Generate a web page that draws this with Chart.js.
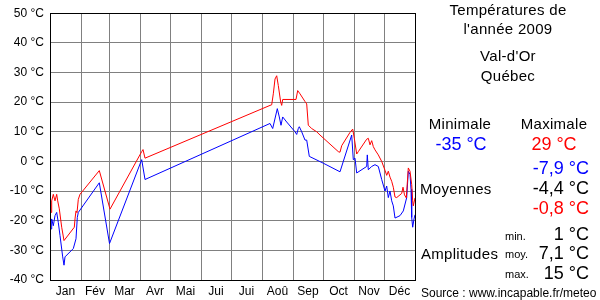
<!DOCTYPE html>
<html>
<head>
<meta charset="utf-8">
<script src="https://cdn.jsdelivr.net/npm/chart.js@4/dist/chart.umd.min.js"></script>
<style>
  body { margin: 0; background: #fff; }
  #wrap { position: relative; width: 600px; height: 300px; font-family: "Liberation Sans", Arial, sans-serif; color: #000; }
  #wrap canvas { position: absolute; left: 0; top: 0; }
  .t { position: absolute; white-space: nowrap; }
  .f15 { font-size: 15px; line-height: 15px; letter-spacing: 0.3px; }
  .f18 { font-size: 18px; line-height: 18px; }
  .f11 { font-size: 11px; line-height: 11px; }
  .f12 { font-size: 12px; line-height: 12px; }
  .c { width: 200px; text-align: center; }
  .r { right: 11px; text-align: right; }
  .bleu { color: #0000ff; }
  .rouge { color: #ff0000; }
</style>
</head>
<body>
<div id="wrap">
  <canvas id="graphique" width="600" height="300"></canvas>

  <div class="t f15 c" style="left:408px;top:2px">Températures de</div>
  <div class="t f15 c" style="left:408px;top:21px">l'année 2009</div>
  <div class="t f15 c" style="left:408px;top:48px">Val-d'Or</div>
  <div class="t f15 c" style="left:408px;top:68px">Québec</div>

  <div class="t f15 c" style="left:360px;top:116px">Minimale</div>
  <div class="t f15 c" style="left:454px;top:116px">Maximale</div>
  <div class="t f18 c bleu" style="left:361px;top:135px">-35 °C</div>
  <div class="t f18 c rouge" style="left:454px;top:135px">29 °C</div>

  <div class="t f18 r bleu" style="top:159px">-7,9 °C</div>
  <div class="t f15" style="left:420px;top:181px">Moyennes</div>
  <div class="t f18 r" style="top:179px">-4,4 °C</div>
  <div class="t f18 r rouge" style="top:199px">-0,8 °C</div>

  <div class="t f11" style="left:505px;top:231px">min.</div>
  <div class="t f18 r" style="top:225px">1 °C</div>
  <div class="t f15" style="left:421px;top:246px">Amplitudes</div>
  <div class="t f11" style="left:505px;top:249px">moy.</div>
  <div class="t f18 r" style="top:244px">7,1 °C</div>
  <div class="t f11" style="left:505px;top:269px">max.</div>
  <div class="t f18 r" style="top:264px">15 °C</div>

  <div class="t f12" style="left:421px;top:287px">Source : www.incapable.fr/meteo</div>
</div>

<script>
const moisNoms = ["Jan", "Fév", "Mar", "Avr", "Mai", "Jui", "Jui", "Aoû", "Sep", "Oct", "Nov", "Déc"];
const moisDebut = [0, 31, 59, 90, 120, 151, 181, 212, 243, 273, 304, 334, 365];
const tempMin = -40;
const tempMax = 50;

// maximales (rouge) : jour de l'année, température
const maxJours = [1, 1.7, 3.3, 5, 6.7, 7.7, 9.3, 11.7, 14, 24.3, 25, 26, 27, 28.3, 30, 49.3, 60,
  91.7, 93, 95, 220, 221.7, 223.3, 225, 226.7, 228.3, 230.7, 231.7, 232.7, 246, 247.7, 250, 255,
  256.7, 258.3, 261.7, 266.7, 270, 288.3, 290, 291.7, 300, 302.7, 304.3, 306.7, 308.3, 316.7,
  318.3, 320, 321.7, 323.3, 325, 328.3, 331.7, 335, 336.7, 338.3, 340, 341.7, 343.3, 345, 346.7,
  351.7, 353, 354.5, 356.3, 358.3, 360, 361.7, 362.7, 363.3, 365];
const maxTemp = [-17.2, -13.3, -11.1, -13.3, -11.1, -13.3, -16, -22.2, -26.7, -22.2, -19.4, -16.7,
  -17.3, -12.8, -11.1, -3.1, -16.1, 3.3, 4, 1.1, 18.9, 19.1, 22.8, 27.8, 28.9, 25.6, 20, 18.9, 20.9,
  20.9, 23.9, 22.8, 20.2, 19.4, 12.2, 11.1, 10, 8.9, 3.3, 3.1, 5.3, 9.8, 10.9, 7.8, 2.5, 3.3, 7.5,
  7.8, 5.6, 7, 5, 3.9, 2.2, 0, -3, -4.7, -3.3, -5.3, -6.7, -8.7, -12, -12.2, -10.8, -8.7, -11.3,
  -12.3, -2.2, -3.3, -7.8, -13.3, -15, -12.3];

// minimales (bleu)
const minJours = [1, 1.7, 3.3, 5, 6.7, 8.3, 10, 12.7, 14, 15, 23.3, 26, 27.3, 28.3, 49.3, 59.5,
  91.7, 95, 220, 222.7, 227.3, 229.3, 231, 232.7, 236.7, 245, 246.7, 248.3, 249.3, 251.7, 255,
  256.7, 259.3, 273.3, 290, 301.7, 303.3, 305, 306.7, 316.7, 317.3, 318.3, 321.7, 325, 328.3,
  331.7, 335, 336.7, 338.3, 340, 341.7, 343.3, 345, 350, 353.3, 356.7, 358.3, 360, 361, 361.7,
  362.7, 364, 365];
const minTemp = [-22.8, -19.4, -21.7, -18.3, -17.2, -20.6, -25, -32.2, -35, -32.2, -29.4, -26.1,
  -18.9, -17.2, -7.2, -27.7, 0.6, -6.1, 12.8, 11.1, 17.8, 15, 12.2, 15, 13.3, 10, 9.1, 11.1, 11.7,
  10, 7.2, 7.2, 1.7, -0.6, -3.5, 8.9, 0.6, 1.1, -3.9, -1.7, 2.2, -2.8, -1.7, -1.1, -1.7, -6.1,
  -10, -8.3, -12.2, -10, -13.3, -15, -19.1, -18.3, -16.7, -12.2, -3.3, -4.4, -9.4, -18.9, -22.2,
  -19.4, -18];

const moisMilieu = moisNoms.map((m, i) => (moisDebut[i] + moisDebut[i + 1]) / 2);

const cadre = {
  id: "cadre",
  afterDraw(chart) {
    const a = chart.chartArea;
    const ctx = chart.ctx;
    ctx.save();
    ctx.strokeStyle = "#000";
    ctx.lineWidth = 1;
    ctx.strokeRect(Math.round(a.left) + 0.5, Math.round(a.top) + 0.5,
      Math.round(a.right - a.left), Math.round(a.bottom - a.top));
    ctx.restore();
  }
};

const police = { family: "'Liberation Sans', Arial, sans-serif", size: 12 };

new Chart(document.getElementById("graphique"), {
  type: "line",
  data: {
    datasets: [
      {
        label: "Maximales",
        data: maxJours.map((d, i) => ({ x: d, y: maxTemp[i] })),
        borderColor: "#ff0000",
        borderWidth: 1,
        pointRadius: 0,
        tension: 0,
      },
      {
        label: "Minimales",
        data: minJours.map((d, i) => ({ x: d, y: minTemp[i] })),
        borderColor: "#0000ff",
        borderWidth: 1,
        pointRadius: 0,
        tension: 0,
      },
    ],
  },
  options: {
    responsive: false,
    animation: false,
    devicePixelRatio: 1,
    layout: { padding: { top: 10, right: 185, left: 0, bottom: 0 } },
    plugins: { legend: { display: false }, tooltip: { enabled: false } },
    scales: {
      x: {
        type: "linear",
        position: "bottom",
        min: 0,
        max: 365,
        afterBuildTicks: (s) => { s.ticks = moisDebut.map((v) => ({ value: v })); },
        afterFit: (s) => { s.height = 0; },
        ticks: { display: false },
        grid: { color: "#808080", lineWidth: 1, drawTicks: false },
        border: { color: "#000" },
      },
      x2: {
        type: "linear",
        position: "bottom",
        min: 0,
        max: 365,
        afterBuildTicks: (s) => { s.ticks = moisMilieu.map((v) => ({ value: v })); },
        afterFit: (s) => { s.height = 20; },
        ticks: {
          callback: (v, i) => moisNoms[i],
          autoSkip: false,
          maxRotation: 0,
          color: "#000",
          font: police,
          padding: 4,
        },
        grid: { display: false, drawTicks: false },
        border: { display: false },
      },
      y: {
        min: tempMin,
        max: tempMax,
        afterFit: (s) => { s.width = 50; },
        ticks: {
          stepSize: 10,
          callback: (v) => v + " °C",
          color: "#000",
          font: police,
          padding: 6,
        },
        grid: { color: "#808080", lineWidth: 1, drawTicks: false },
        border: { color: "#000" },
      },
    },
  },
  plugins: [cadre],
});
</script>
</body>
</html>
